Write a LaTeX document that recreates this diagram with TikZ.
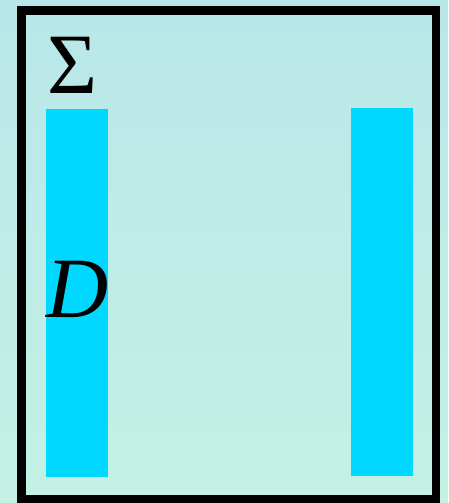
\documentclass[tikz,border=0pt]{standalone}
\usepackage{fontspec}
\setmainfont{Liberation Serif}
\usetikzlibrary{positioning}

\definecolor{bgtop}{RGB}{184,231,233}
\definecolor{bgbot}{RGB}{196,241,228}
\definecolor{barcyan}{RGB}{0,216,255}

\begin{document}
\begin{tikzpicture}[
            x=1pt,
            y=-1pt,
            bar/.style={fill=barcyan, draw=none},
            symb/.style={inner sep=0pt, anchor=base, font=\fontsize{86}{86}\selectfont}
        ]

            % --- Definitions ---
            \def\W{448}
            \def\H{503}

            % --- Background ---
            \useasboundingbox (0,0) rectangle (\W,\H);
            \shade[shading angle=30, top color=bgtop, bottom color=bgbot] (0,0) rectangle (\W,\H);

            % --- 1. Bars ---
            \fill[bar] (46,109) rectangle (108,477);
            \fill[bar] (351,108) rectangle (413,476);

            % --- 2. Frame ---
            \draw[line width=8.5pt, black] (21.5,10.5) rectangle (436,499);

            % --- 3. Labels ---
            \node[symb] (sigma) at (72.5,93) {Σ};
            \node[symb] (dom) at (78,317) {\itshape D};

        \end{tikzpicture}
\end{document}
